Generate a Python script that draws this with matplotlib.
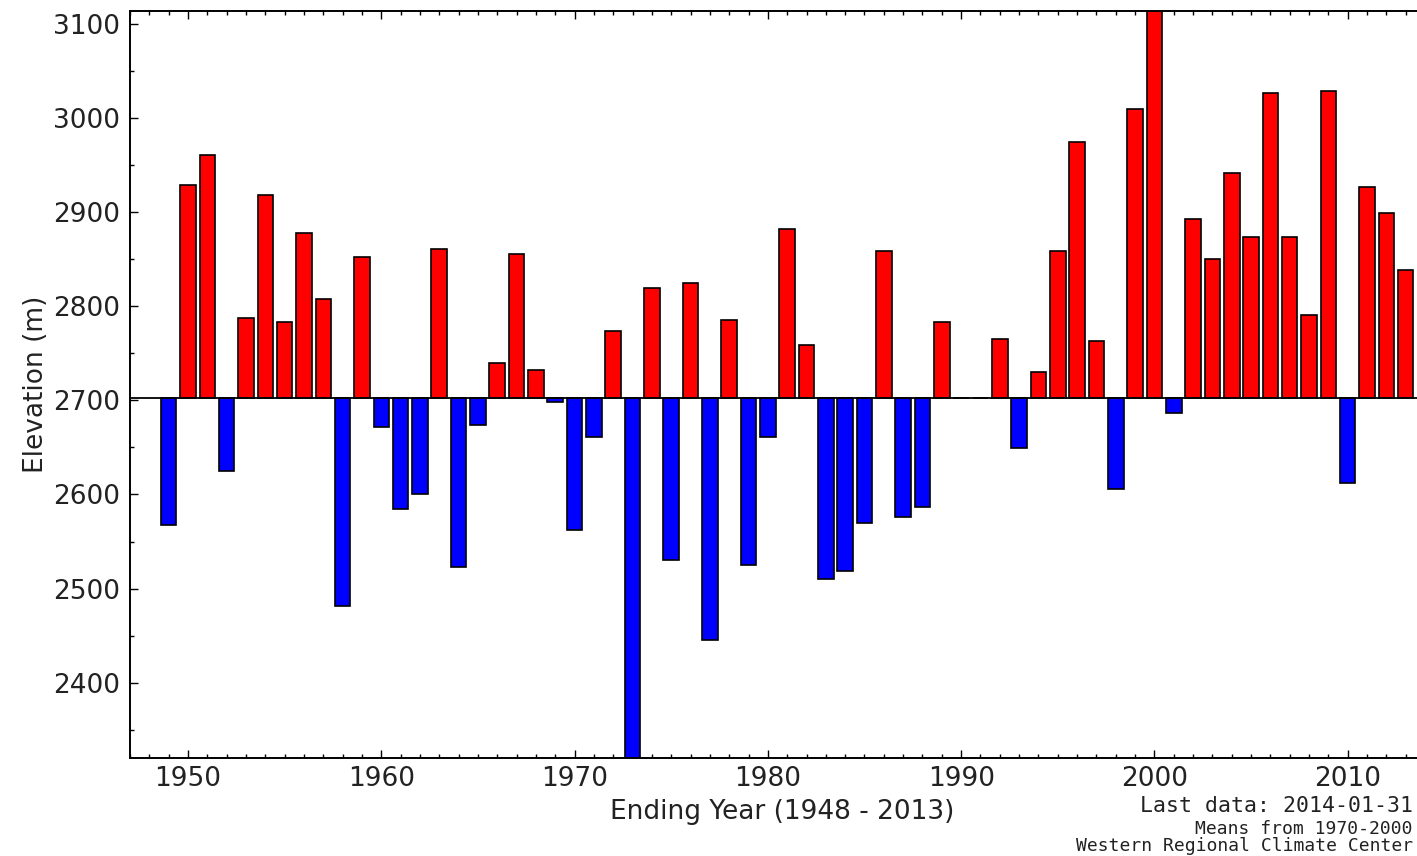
import matplotlib
matplotlib.use("Agg")
import matplotlib.pyplot as plt
from matplotlib.ticker import MultipleLocator

years = list(range(1949, 2014))
elevation = [
    2568, 2929, 2961, 2625, 2787, 2918, 2783, 2878, 2808, 2481,  # 1949-1958
    2852, 2672, 2585, 2600, 2861, 2523, 2674, 2740, 2855, 2732,  # 1959-1968
    2698, 2562, 2661, 2774, 2290, 2819, 2530, 2825, 2445, 2785,  # 1969-1978
    2525, 2661, 2882, 2759, 2510, 2519, 2570, 2859, 2576, 2587,  # 1979-1988
    2783, 2703, 2703, 2765, 2649, 2730, 2859, 2974, 2763, 2606,  # 1989-1998
    3010, 3140, 2687, 2893, 2850, 2942, 2874, 3027, 2874, 2791,  # 1999-2008
    3029, 2612, 2927, 2899, 2838,                                # 2009-2013
]
mean_elev = 2703

colors = ['#ff0000' if v >= mean_elev else '#0000ff' for v in elevation]
heights = [v - mean_elev for v in elevation]

fig = plt.figure(figsize=(14.17, 8.56), dpi=100)
ax = fig.add_axes([0.0917, 0.1145, 0.92, 0.873])

ax.bar(years, heights, width=0.8, bottom=mean_elev, color=colors,
       edgecolor='black', linewidth=1.2, align='center', zorder=2)
ax.axhline(mean_elev, color='black', linewidth=1.3, zorder=3)

ax.set_xlim(1947.0, 2014.44)
ax.set_ylim(2320, 3114)

ax.xaxis.set_major_locator(MultipleLocator(10))
ax.xaxis.set_minor_locator(MultipleLocator(1))
ax.yaxis.set_major_locator(MultipleLocator(100))
ax.yaxis.set_minor_locator(MultipleLocator(50))

ax.tick_params(which='both', direction='in', top=True, right=True, labelsize=19,
               colors='black', labelcolor='#222222')
ax.tick_params(which='major', length=6, width=1)
ax.tick_params(which='minor', length=3, width=1)
ax.tick_params(axis='x', which='major', pad=6)
ax.tick_params(axis='y', which='major', pad=7)
for s in ax.spines.values():
    s.set_linewidth(1.4)

ax.set_xlabel('Ending Year (1948 - 2013)', fontsize=19, color='#222222', labelpad=5)
ax.set_ylabel('Elevation (m)', fontsize=19, color='#222222', labelpad=3)

fig.text(0.997, 0.058, 'Last data: 2014-01-31', family='DejaVu Sans Mono',
         fontsize=15.5, ha='right', va='center', color='#222222')
fig.text(0.997, 0.031, 'Means from 1970-2000', family='DejaVu Sans Mono',
         fontsize=13, ha='right', va='center', color='#222222')
fig.text(0.997, 0.012, 'Western Regional Climate Center', family='DejaVu Sans Mono',
         fontsize=13, ha='right', va='center', color='#222222')

fig.savefig('out.png', dpi=100)
